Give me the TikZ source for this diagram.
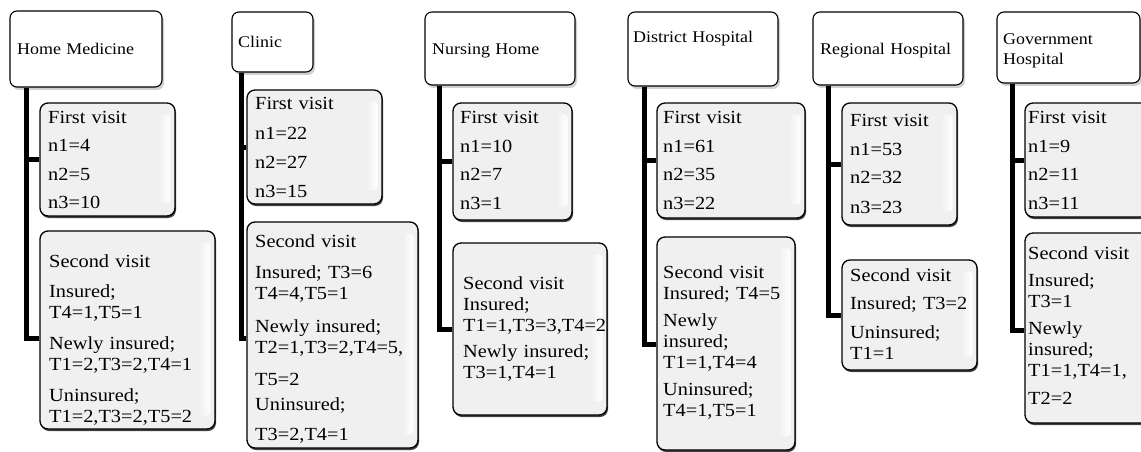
\documentclass[tikz,border=0pt]{standalone}
\usepackage{fontspec}
\setmainfont[FakeStretch=1.1]{Liberation Serif}
\usetikzlibrary{fit,shadows}
\newcommand\hlstrip[1]{\shade[left color=black!6, right color=white, rounded corners=4pt] ([xshift=-17pt,yshift=-12pt]#1.north east) rectangle ([xshift=-5pt,yshift=14pt]#1.south east);}
\begin{document}
\begin{tikzpicture}[x=1pt,y=-1pt,
  hbox/.style={draw=black, line width=1.1pt, rounded corners=7pt, fill=white, inner sep=0pt,
     drop shadow={shadow xshift=2pt, shadow yshift=-3pt, fill=black!18, opacity=1}},
  cbox/.style={draw=black, line width=1.3pt, rounded corners=8pt, fill=black!6, inner sep=0pt,
     drop shadow={shadow xshift=1pt, shadow yshift=-2pt, fill=black!75, opacity=1}},
  spine/.style={line width=5pt, line join=miter},
  htxt/.style={anchor=base west, inner sep=0pt, text width=160pt, align=left, font=\fontsize{16.3}{20}\selectfont},
  btxt/.style={anchor=base west, inner sep=0pt, text width=200pt, align=left, font=\fontsize{18.5}{21}\selectfont},
]
\useasboundingbox (0,0) rectangle (1141,452);
\clip (0,0) rectangle (1141,452);

% ---------- Home Medicine ----------
\node[hbox, fit={(10,11)(162,87)}] (hm) {};
\node[cbox, fit={(40,103)(175,216)}] (hm1) {};
\node[cbox, fit={(40,231)(215,429)}] (hm2) {};
\hlstrip{hm1}\hlstrip{hm2}
\coordinate (hm-s) at ([xshift=17pt]hm.south west);
\draw[spine] (hm-s) |- (hm1.west);
\draw[spine] (hm-s) |- ([yshift=-8pt]hm2.west);
\node[htxt] (hm-t) at (17,55) {Home Medicine};
\node[btxt] (hm1-t) at (48,123) {First visit\\[7.5pt]n1=4\\[7.5pt]n2=5\\[7.5pt]n3=10};
\node[btxt] (hm2-t) at (49,267) {Second visit\\[9pt]Insured;\\T4=1,T5=1\\[10pt]Newly insured;\\T1=2,T3=2,T4=1\\[10pt]Uninsured;\\T1=2,T3=2,T5=2};

% ---------- Clinic ----------
\node[hbox, fit={(232,12)(313,72)}] (cl) {};
\node[cbox, fit={(247,90)(382,204)}] (cl1) {};
\node[cbox, fit={(247,222)(418,448)}] (cl2) {};
\hlstrip{cl1}\hlstrip{cl2}
\coordinate (cl-s) at ([xshift=10pt]cl.south west);
\draw[spine] (cl-s) |- (cl1.west);
\draw[spine] (cl-s) |- ([yshift=-3pt]cl2.west);
\node[htxt] (cl-t) at (238,48) {Clinic};
\node[btxt] (cl1-t) at (255,110) {First visit\\[8.3pt]n1=22\\[8.3pt]n2=27\\[8.3pt]n3=15};
\node[btxt] (cl2-t) at (255,247) {Second visit\\[10pt]Insured; T3=6\\T4=4,T5=1\\[12pt]Newly insured;\\T2=1,T3=2,T4=5,\\[11pt]T5=2\\[4pt]Uninsured;\\[9pt]T3=2,T4=1};

% ---------- Nursing Home ----------
\node[hbox, fit={(425,12)(575,85)}] (nh) {};
\node[cbox, fit={(453,103)(572,220)}] (nh1) {};
\node[cbox, fit={(453,243)(607,415)}] (nh2) {};
\hlstrip{nh1}\hlstrip{nh2}
\coordinate (nh-s) at ([xshift=15pt]nh.south west);
\draw[spine] (nh-s) |- (nh1.west);
\draw[spine] (nh-s) |- (nh2.west);
\node[htxt] (nh-t) at (432,55) {Nursing Home};
\node[btxt] (nh1-t) at (460,124) {First visit\\[7.5pt]n1=10\\[7.5pt]n2=7\\[7.5pt]n3=1};
\node[btxt] (nh2-t) at (463,289) {Second visit\\Insured;\\T1=1,T3=3,T4=2\\[5pt]Newly insured;\\T3=1,T4=1};

% ---------- District Hospital ----------
\node[hbox, fit={(628,12)(778,86)}] (dh) {};
\node[cbox, fit={(657,103)(805,218)}] (dh1) {};
\node[cbox, fit={(657,237)(795,450)}] (dh2) {};
\hlstrip{dh1}\hlstrip{dh2}
\coordinate (dh-s) at ([xshift=17pt]dh.south west);
\draw[spine] (dh-s) |- (dh1.west);
\draw[spine] (dh-s) |- ([yshift=-0.5pt]dh2.west);
\node[htxt] (dh-t) at (633,43) {District Hospital};
\node[btxt] (dh1-t) at (663,124) {First visit\\[7.5pt]n1=61\\[7.5pt]n2=35\\[7.5pt]n3=22};
\node[btxt] (dh2-t) at (663,278) {Second visit\\Insured; T4=5\\[6pt]Newly\\insured;\\T1=1,T4=4\\[6pt]Uninsured;\\T4=1,T5=1};

% ---------- Regional Hospital ----------
\node[hbox, fit={(813,12)(963,85)}] (rh) {};
\node[cbox, fit={(842,103)(957,225)}] (rh1) {};
\node[cbox, fit={(842,260)(977,370)}] (rh2) {};
\hlstrip{rh1}\hlstrip{rh2}
\coordinate (rh-s) at ([xshift=16pt]rh.south west);
\draw[spine] (rh-s) |- (rh1.west);
\draw[spine] (rh-s) |- (rh2.west);
\node[htxt] (rh-t) at (820,55) {Regional Hospital};
\node[btxt] (rh1-t) at (850,126) {First visit\\[8pt]n1=53\\[8pt]n2=32\\[8pt]n3=23};
\node[btxt] (rh2-t) at (850,281) {Second visit\\[7pt]Insured; T3=2\\[8pt]Uninsured;\\T1=1};

% ---------- Government Hospital ----------
\node[hbox, fit={(997,12)(1140,83)}] (gh) {};
\node[cbox, fit={(1025,103)(1165,217)}] (gh1) {};
\node[cbox, fit={(1025,233)(1165,423)}] (gh2) {};
\coordinate (gh-s) at ([xshift=16pt]gh.south west);
\draw[spine] (gh-s) |- (gh1.west);
\draw[spine] (gh-s) |- ([yshift=-2pt]gh2.west);
\node[htxt] (gh-t) at (1003,45) {Government\\Hospital};
\node[btxt] (gh1-t) at (1028,124) {First visit\\[7.5pt]n1=9\\[7.5pt]n2=11\\[7.5pt]n3=11};
\node[btxt] (gh2-t) at (1028,259) {Second visit\\[6pt]Insured;\\T3=1\\[6pt]Newly\\insured;\\T1=1,T4=1,\\[7pt]T2=2};
\end{tikzpicture}
\end{document}
